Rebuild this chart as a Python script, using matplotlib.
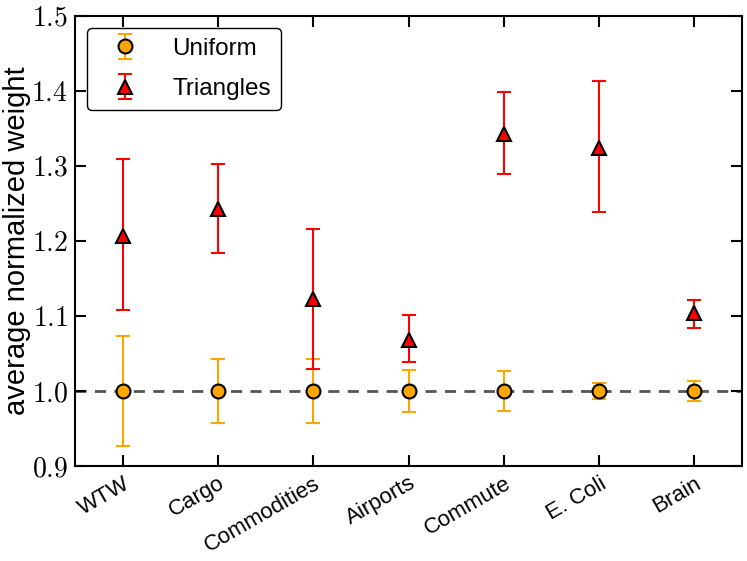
import numpy as np
import matplotlib
matplotlib.use('Agg')
import matplotlib.pyplot as plt
import matplotlib.transforms as mtransforms

plt.rcParams['font.family'] = ['Liberation Sans', 'DejaVu Sans']
plt.rcParams['mathtext.fontset'] = 'cm'

networks = ['WTW', 'Cargo', 'Commodities', 'Airports', 'Commute', 'E. Coli', 'Brain']

uni_mean = [1.0, 1.0, 1.0, 1.0, 1.0, 1.0, 1.0]
uni_low = [0.927, 0.957, 0.957, 0.972, 0.973, 0.989, 0.987]
uni_high = [1.073, 1.043, 1.043, 1.028, 1.027, 1.011, 1.013]

tri_mean = [1.207, 1.243, 1.123, 1.068, 1.343, 1.324, 1.104]
tri_low = [1.108, 1.184, 1.029, 1.039, 1.289, 1.239, 1.084]
tri_high = [1.309, 1.303, 1.216, 1.101, 1.399, 1.413, 1.121]

yticks = [0.9, 1.0, 1.1, 1.2, 1.3, 1.4, 1.5]

x = np.arange(len(networks))
uni_err = [np.subtract(uni_mean, uni_low), np.subtract(uni_high, uni_mean)]
tri_err = [np.subtract(tri_mean, tri_low), np.subtract(tri_high, tri_mean)]

fig = plt.figure(figsize=(7.47, 5.61), dpi=100)
ax = fig.add_axes([0.1004, 0.1693, 0.893, 0.8022])

ax.axhline(1.0, color='#555555', ls='--', lw=2, dashes=(4, 3), zorder=1)
ax.errorbar(x, uni_mean, yerr=uni_err, fmt='o', color='orange', ecolor='orange',
            mfc='orange', mec='black', mew=1.5, ms=10, elinewidth=1.5,
            capsize=5, capthick=1.5, label='Uniform', zorder=3)
ax.errorbar(x, tri_mean, yerr=tri_err, fmt='^', color='red', ecolor='red',
            mfc='red', mec='black', mew=1.5, ms=10.5, elinewidth=1.5,
            capsize=5, capthick=1.5, label='Triangles', zorder=3)

ax.set_xlim(-0.5, 6.5)
ax.set_ylim(0.9, 1.5)
ax.set_xticks(x)
ax.set_xticklabels(networks, rotation=30, ha='right', rotation_mode='anchor',
                   fontsize=16)
shift = mtransforms.ScaledTranslation(8 / 100, 0, fig.dpi_scale_trans)
for lab in ax.get_xticklabels():
    lab.set_transform(lab.get_transform() + shift)
ax.set_yticks(yticks)
ax.set_yticklabels(['$%.1f$' % v for v in yticks], fontsize=20)
ax.tick_params(direction='in', length=8, width=1.5, top=True, right=True)
ax.tick_params(axis='x', pad=5)
ax.tick_params(axis='y', pad=5)
for s in ax.spines.values():
    s.set_linewidth(1.5)
ax.set_ylabel('average normalized weight', fontsize=21, labelpad=0)

leg = ax.legend(loc='upper left', fontsize=17.5, numpoints=1, handlelength=2.3,
                labelspacing=0.75, fancybox=True, framealpha=1, edgecolor='black')
leg.get_frame().set_linewidth(1)

fig.savefig('out.png', dpi=100)
